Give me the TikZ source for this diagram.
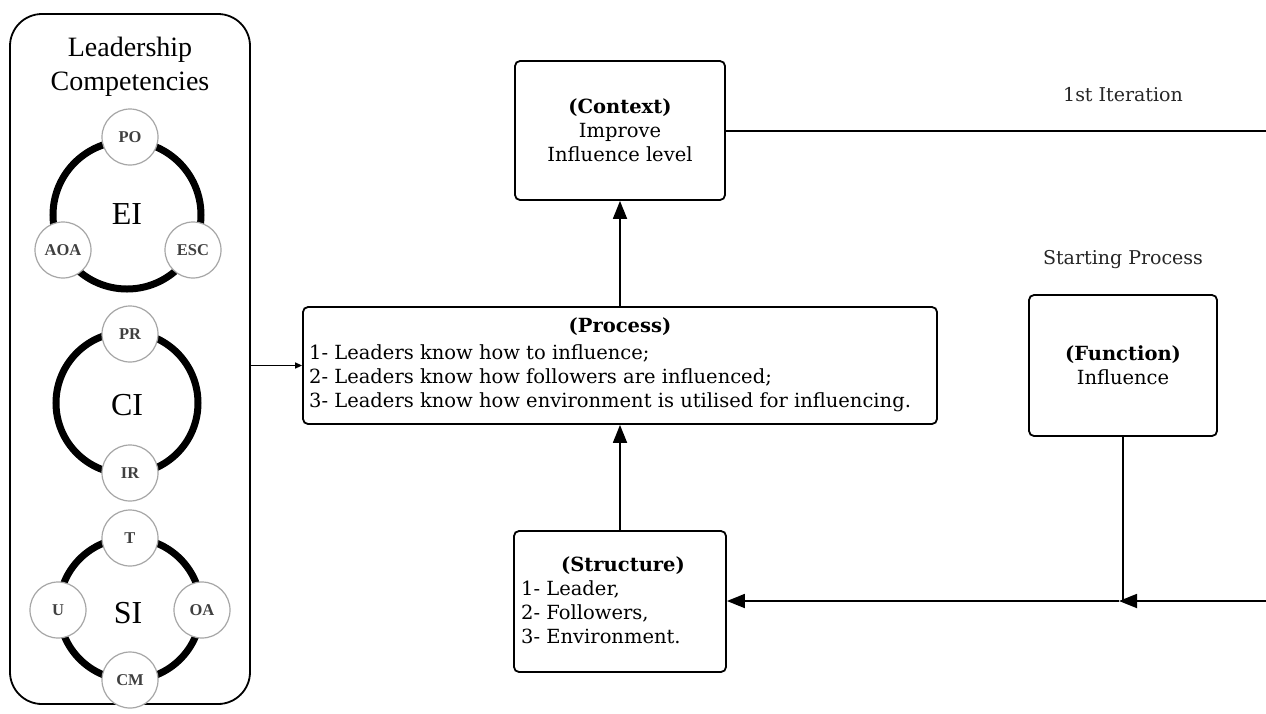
\documentclass[tikz,border=0pt]{standalone}
\usepackage{fontspec}
\setmainfont{DejaVu Serif}
\newfontfamily\tnr{Liberation Serif}
\usetikzlibrary{arrows.meta}
\begin{document}
\begin{tikzpicture}[x=1pt,y=-1pt,
  box/.style={draw, line width=1.8pt, rounded corners=5pt, fill=white, inner sep=0pt},
  ring/.style={line width=7pt},
  sc/.style={circle, draw=black!35, line width=1.2pt, fill=white, minimum size=56pt, inner sep=0pt, text=black!75, font=\tnr\bfseries\fontsize{16.5}{17}\selectfont},
  big/.style={font=\tnr\fontsize{32}{34}\selectfont, inner sep=0pt},
  txt/.style={font=\fontsize{19.5}{24}\selectfont, inner sep=0pt},
  lbl/.style={font=\fontsize{19}{22}\selectfont, inner sep=0pt, text=black!85},
  arr/.style={line width=1.8pt, -{Triangle[length=18pt,width=14pt]}},
  ln/.style={line width=2pt},
]
\useasboundingbox (0,0) rectangle (1266,713);
\fill[white] (0,0) rectangle (1266,713);

% left panel
\node[draw, line width=1.8pt, rounded corners=32pt, minimum width=240pt, minimum height=690pt, inner sep=0pt] (panel) at (130,359) {};
\node[font=\tnr\fontsize{28}{34}\selectfont, align=center, inner sep=0pt] (title) at (130,67) {Leadership\\Competencies};

% EI
\draw[ring] (127,215) circle (74pt);
\node[big] (ei) at (127,214) {EI};
\node[sc] (po) at (130,137) {PO};
\node[sc] (aoa) at (63,250) {AOA};
\node[sc] (esc) at (193,250) {ESC};

% CI
\draw[ring] (127,403) circle (71pt);
\node[big] (ci) at (127,405) {CI};
\node[sc] (pr) at (130,334) {PR};
\node[sc] (ir) at (130,473) {IR};

% SI
\draw[ring] (130,609) circle (71pt);
\node[big] (si) at (128,613) {SI};
\node[sc] (t) at (130,538) {T};
\node[sc] (u) at (58,610) {U};
\node[sc] (oa) at (202,610) {OA};
\node[sc] (cm) at (130,680) {CM};

% boxes
\node[box, txt, minimum width=210pt, minimum height=139pt, align=center] (ctx) at (620,130.5) {\textbf{(Context)}\\Improve\\Influence level};

\node[box, minimum width=634pt, minimum height=117pt] (proc) at (620,365.5) {};
\node[txt] (proch) at (620,327) {\textbf{(Process)}};
\node[txt, align=left, anchor=west] (procb) at (309,378) {1- Leaders know how to influence;\\2- Leaders know how followers are influenced;\\3- Leaders know how environment is utilised for influencing.};

\node[box, minimum width=212pt, minimum height=141pt] (strc) at (620,601.5) {};
\node[txt] (strh) at (623,566) {\textbf{(Structure)}};
\node[txt, align=left, anchor=west] (strb) at (521,612.5) {1- Leader,\\2- Followers,\\3- Environment.};

\node[box, txt, minimum width=188pt, minimum height=141pt, align=center] (func) at (1123,365.5) {\textbf{(Function)}\\Influence};

\node[lbl] (iter) at (1123,95) {1st Iteration};
\node[lbl] (start) at (1123,260) {Starting Process};

% coordinates
\coordinate (ctxr) at (1266,130.5);
\coordinate (redge) at (1266,601);
\coordinate (junc) at (1119,601);

% connectors
\draw[ln] (ctx.east) -- (ctxr);
\draw[arr] (proc.north -| ctx.south) -- (ctx.south);
\draw[arr] (strc.north) -- (strc.north |- proc.south);
\draw[line width=1.5pt, -{Triangle[length=7pt,width=6pt]}] (panel.east |- proc.west) -- (proc.west);
\draw[ln] (func.south) -- (func.south |- redge);
\draw[arr] (redge) -- (junc);
\draw[arr] (junc) -- (junc -| strc.east);
\end{tikzpicture}
\end{document}
